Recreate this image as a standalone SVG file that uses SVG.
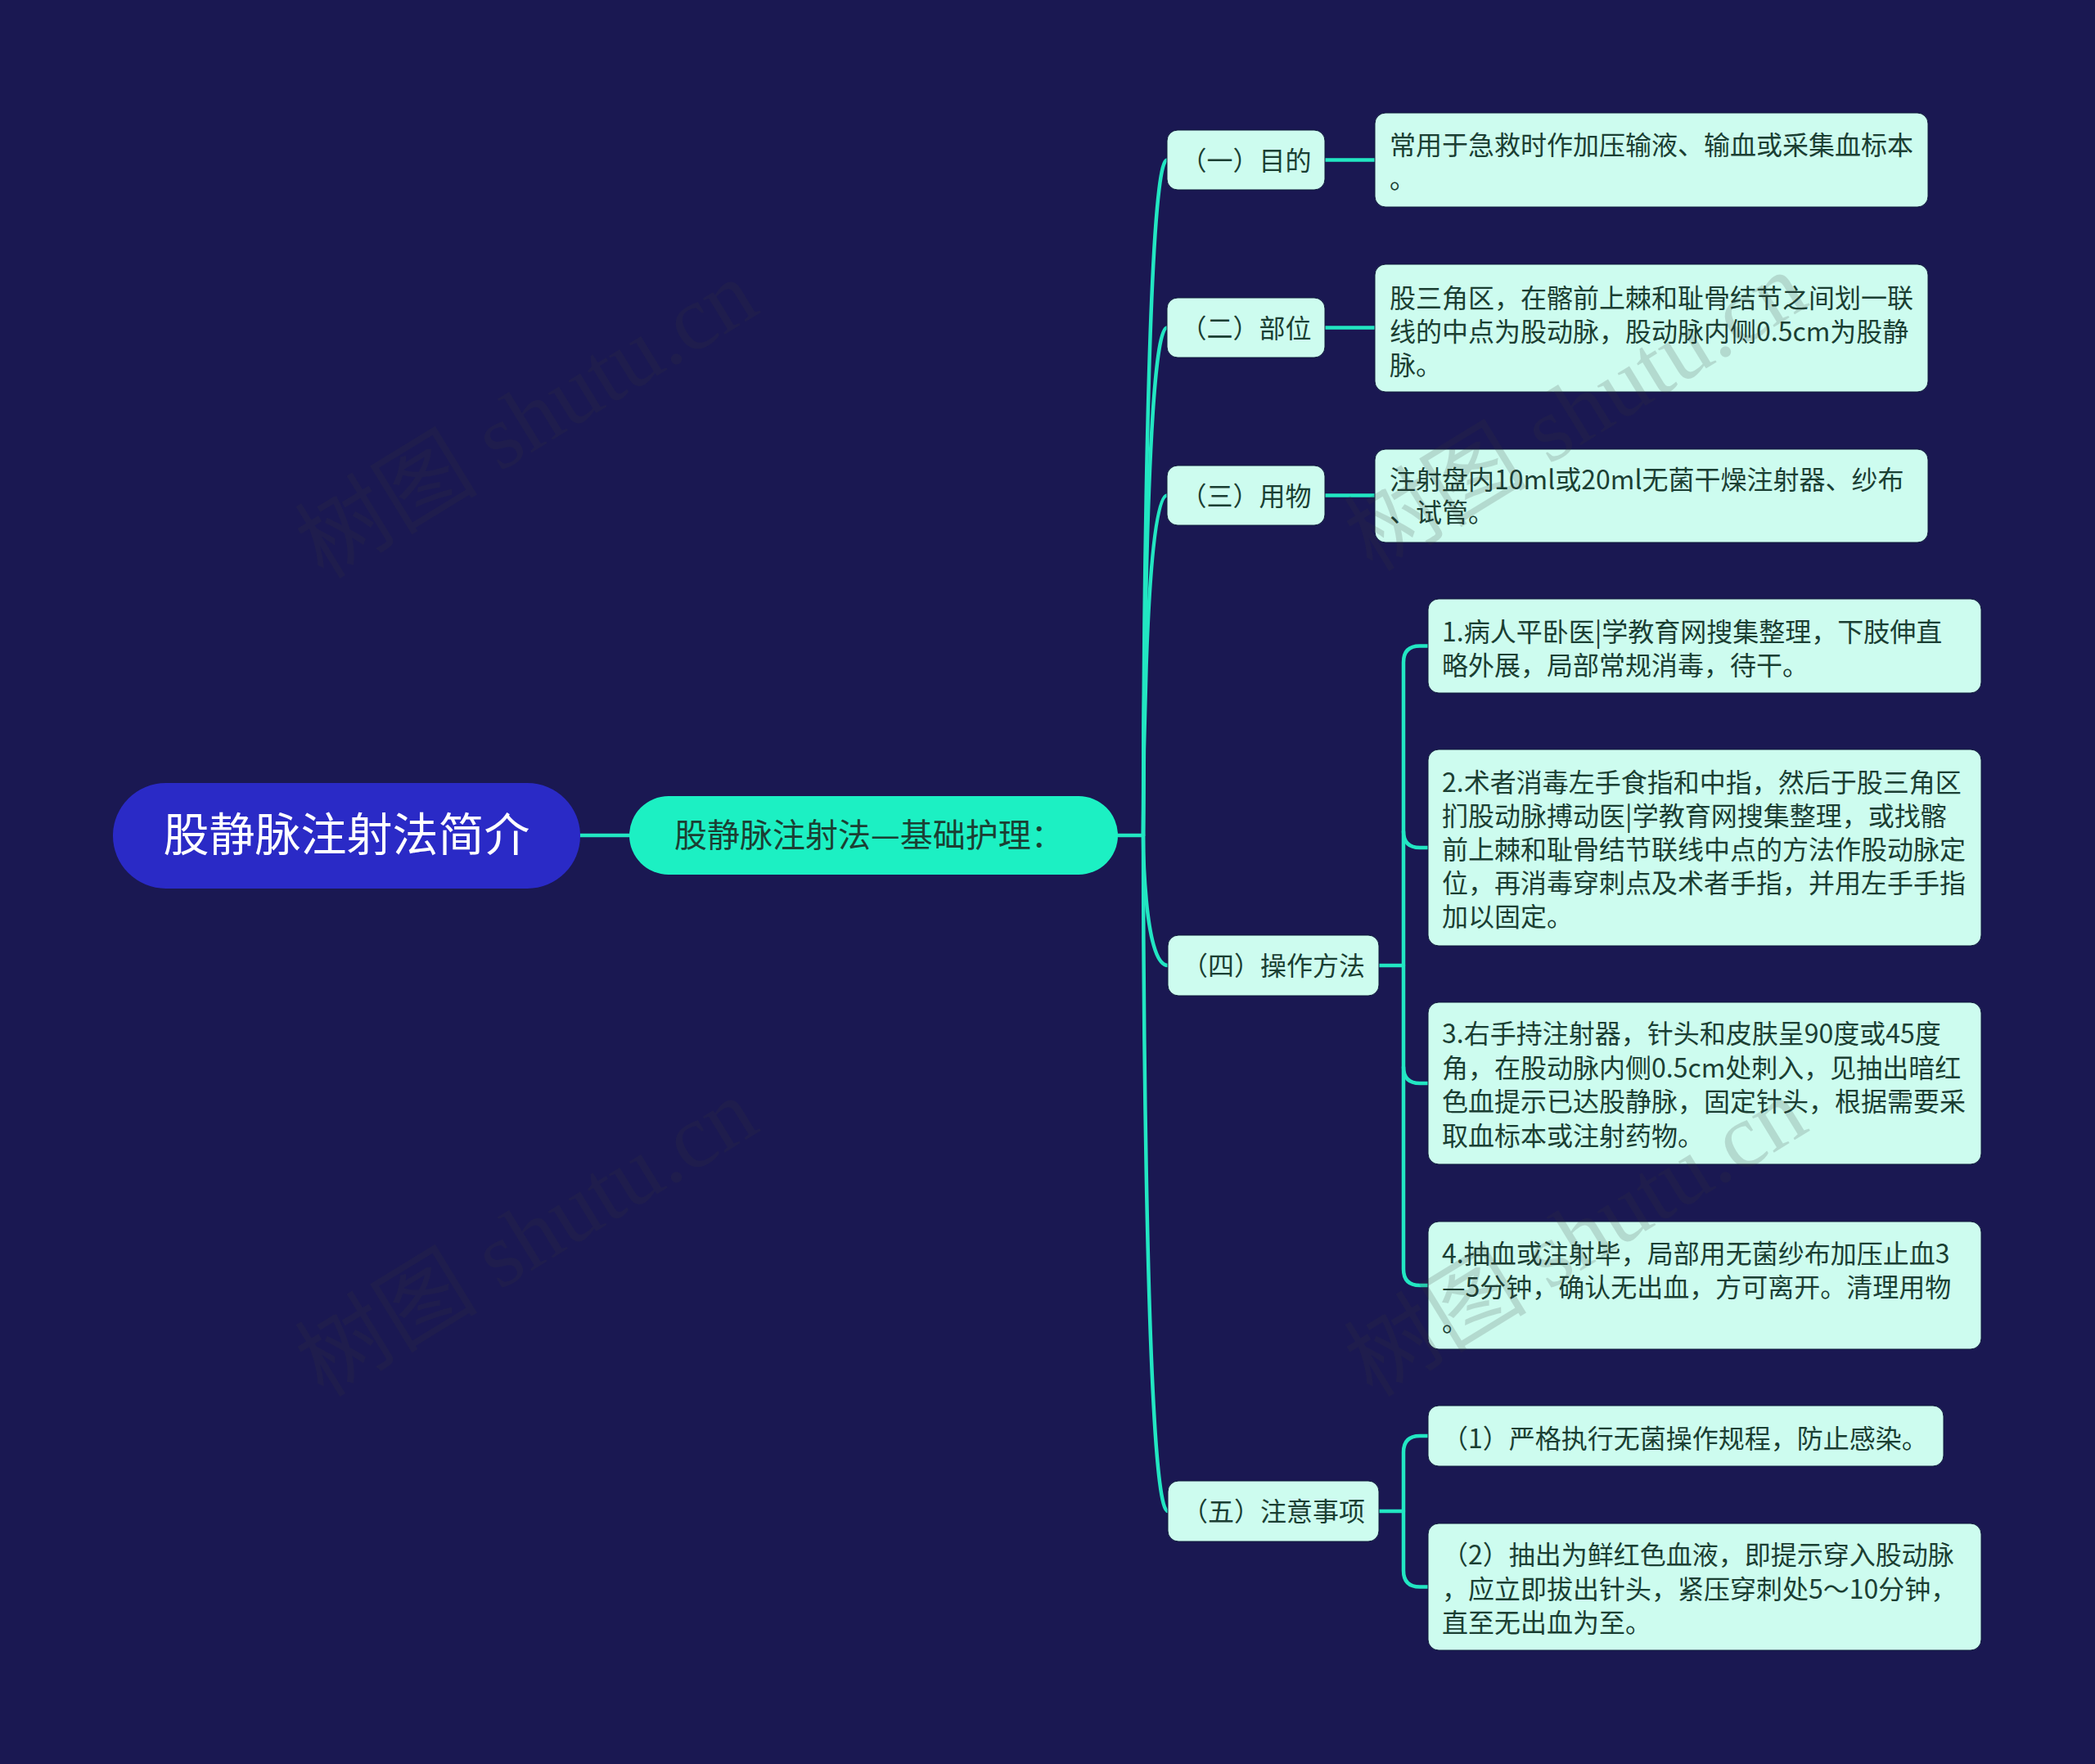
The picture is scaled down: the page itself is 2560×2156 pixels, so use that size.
<svg xmlns="http://www.w3.org/2000/svg" width="2560" height="2156" viewBox="0 0 2560 2156">
<defs>
<style>
.bg{fill:#1a1852}
.conn{fill:none;stroke:#22e6c2;stroke-width:4.5;stroke-linecap:round}
.root{fill:#2a2ac6}
.main{fill:#1cf0c3}
.box{fill:#cdfcef;stroke:#0e1a3a;stroke-width:1}
.t{font-family:"Noto Sans CJK SC","Noto Sans",sans-serif;fill:#1b3f33}
.t32{font-size:32px}
.tw{font-family:"Noto Sans CJK SC","Noto Sans",sans-serif;fill:#ffffff;font-size:56px}
.wm{font-family:"Liberation Serif","Noto Sans CJK SC",serif;font-size:112px;fill:#3a3a3a;opacity:0.17}
</style>
</defs>
<rect class="bg" x="0" y="0" width="2560" height="2156"/>

<g id="connectors">
<path class="conn" d="M709,1021 H769"/>
<path class="conn" d="M1366,1021 H1397"/>
<path class="conn" d="M1397,1021 C1397,1021 1397,195.5 1426,195.5"/>
<path class="conn" d="M1397,1021 C1397,1021 1397,400.5 1426,400.5"/>
<path class="conn" d="M1397,1021 C1397,1021 1397,605.5 1426,605.5"/>
<path class="conn" d="M1397,1021 C1397,1021 1397,1180 1427,1180"/>
<path class="conn" d="M1397,1021 C1397,1021 1397,1847 1427,1847"/>
<path class="conn" d="M1619,195.5 H1680"/>
<path class="conn" d="M1619,400.5 H1680"/>
<path class="conn" d="M1619,605.5 H1680"/>
<path class="conn" d="M1685,1180 H1715"/>
<path class="conn" d="M1745,789.5 H1735 Q1715,789.5 1715,809.5 V1551 Q1715,1571 1735,1571 H1745"/>
<path class="conn" d="M1715,1016 Q1715,1036 1735,1036 H1745"/>
<path class="conn" d="M1715,1304 Q1715,1324 1735,1324 H1745"/>
<path class="conn" d="M1685,1847 H1715"/>
<path class="conn" d="M1745,1755 H1735 Q1715,1755 1715,1775 V1919.5 Q1715,1939.5 1735,1939.5 H1745"/>
</g>

<g id="root">
<rect class="root" x="138" y="957" width="571" height="129" rx="64.5"/>
<text class="tw" x="423.5" y="1040" text-anchor="middle">股静脉注射法简介</text>
</g>

<g id="main">
<rect class="main" x="769" y="973" width="597" height="96" rx="48"/>
<text class="t" x="1062" y="1035" font-size="40" text-anchor="middle">股静脉注射法—基础护理：</text>
</g>

<g id="n1">
<rect class="box" x="1426" y="159" width="193" height="73" rx="13"/>
<text class="t t32" x="1522.5" y="207.5" text-anchor="middle">（一）目的</text>
</g>
<g id="n2">
<rect class="box" x="1426" y="364" width="193" height="73" rx="13"/>
<text class="t t32" x="1522.5" y="412.5" text-anchor="middle">（二）部位</text>
</g>
<g id="n3">
<rect class="box" x="1426" y="569" width="193" height="73" rx="13"/>
<text class="t t32" x="1522.5" y="617.5" text-anchor="middle">（三）用物</text>
</g>
<g id="n4">
<rect class="box" x="1427" y="1143" width="258" height="74" rx="13"/>
<text class="t t32" x="1556" y="1192" text-anchor="middle">（四）操作方法</text>
</g>
<g id="n5">
<rect class="box" x="1427" y="1810" width="258" height="74" rx="13"/>
<text class="t t32" x="1556" y="1859" text-anchor="middle">（五）注意事项</text>
</g>

<g id="l1">
<rect class="box" x="1680" y="138" width="676" height="115" rx="13"/>
<text class="t t32" x="1698" y="189">常用于急救时作加压输液、输血或采集血标本</text>
<text class="t t32" x="1698" y="230">。</text>
</g>
<g id="l2">
<rect class="box" x="1680" y="323" width="676" height="156" rx="13"/>
<text class="t t32" x="1698" y="376">股三角区，在髂前上棘和耻骨结节之间划一联</text>
<text class="t t32" x="1698" y="417">线的中点为股动脉，股动脉内侧0.5cm为股静</text>
<text class="t t32" x="1698" y="458">脉。</text>
</g>
<g id="l3">
<rect class="box" x="1680" y="549" width="676" height="114" rx="13"/>
<text class="t t32" x="1698" y="598">注射盘内10ml或20ml无菌干燥注射器、纱布</text>
<text class="t t32" x="1698" y="638">、试管。</text>
</g>
<g id="l41">
<rect class="box" x="1745" y="732" width="676" height="115" rx="13"/>
<text class="t t32" x="1762" y="784">1.病人平卧医|学教育网搜集整理，下肢伸直</text>
<text class="t t32" x="1762" y="825">略外展，局部常规消毒，待干。</text>
</g>
<g id="l42">
<rect class="box" x="1745" y="916" width="676" height="240" rx="13"/>
<text class="t t32" x="1762" y="968">2.术者消毒左手食指和中指，然后于股三角区</text>
<text class="t t32" x="1762" y="1009">扪股动脉搏动医|学教育网搜集整理，或找髂</text>
<text class="t t32" x="1762" y="1050">前上棘和耻骨结节联线中点的方法作股动脉定</text>
<text class="t t32" x="1762" y="1091">位，再消毒穿刺点及术者手指，并用左手手指</text>
<text class="t t32" x="1762" y="1132">加以固定。</text>
</g>
<g id="l43">
<rect class="box" x="1745" y="1225" width="676" height="198" rx="13"/>
<text class="t t32" x="1762" y="1275">3.右手持注射器，针头和皮肤呈90度或45度</text>
<text class="t t32" x="1762" y="1317">角，在股动脉内侧0.5cm处刺入，见抽出暗红</text>
<text class="t t32" x="1762" y="1358">色血提示已达股静脉，固定针头，根据需要采</text>
<text class="t t32" x="1762" y="1400">取血标本或注射药物。</text>
</g>
<g id="l44">
<rect class="box" x="1745" y="1493" width="676" height="156" rx="13"/>
<text class="t t32" x="1762" y="1544">4.抽血或注射毕，局部用无菌纱布加压止血3</text>
<text class="t t32" x="1762" y="1585">—5分钟，确认无出血，方可离开。清理用物</text>
<text class="t t32" x="1762" y="1627">。</text>
</g>
<g id="l51">
<rect class="box" x="1745" y="1718" width="630" height="74" rx="13"/>
<text class="t t32" x="1762" y="1770">（1）严格执行无菌操作规程，防止感染。</text>
</g>
<g id="l52">
<rect class="box" x="1745" y="1862" width="676" height="155" rx="13"/>
<text class="t t32" x="1762" y="1912">（2）抽出为鲜红色血液，即提示穿入股动脉</text>
<text class="t t32" x="1762" y="1954">，应立即拔出针头，紧压穿刺处5～10分钟，</text>
<text class="t t32" x="1762" y="1995">直至无出血为至。</text>
</g>

<g id="watermarks">
<text class="wm" x="645" y="550" text-anchor="middle" transform="rotate(-31.5 645 515)">树图 shutu.cn</text>
<text class="wm" x="645" y="1550" text-anchor="middle" transform="rotate(-31.5 645 1515)">树图 shutu.cn</text>
<text class="wm" x="1927" y="541" text-anchor="middle" transform="rotate(-31.5 1927 506)">树图 shutu.cn</text>
<text class="wm" x="1927" y="1550" text-anchor="middle" transform="rotate(-31.5 1927 1515)">树图 shutu.cn</text>
</g>
</svg>
